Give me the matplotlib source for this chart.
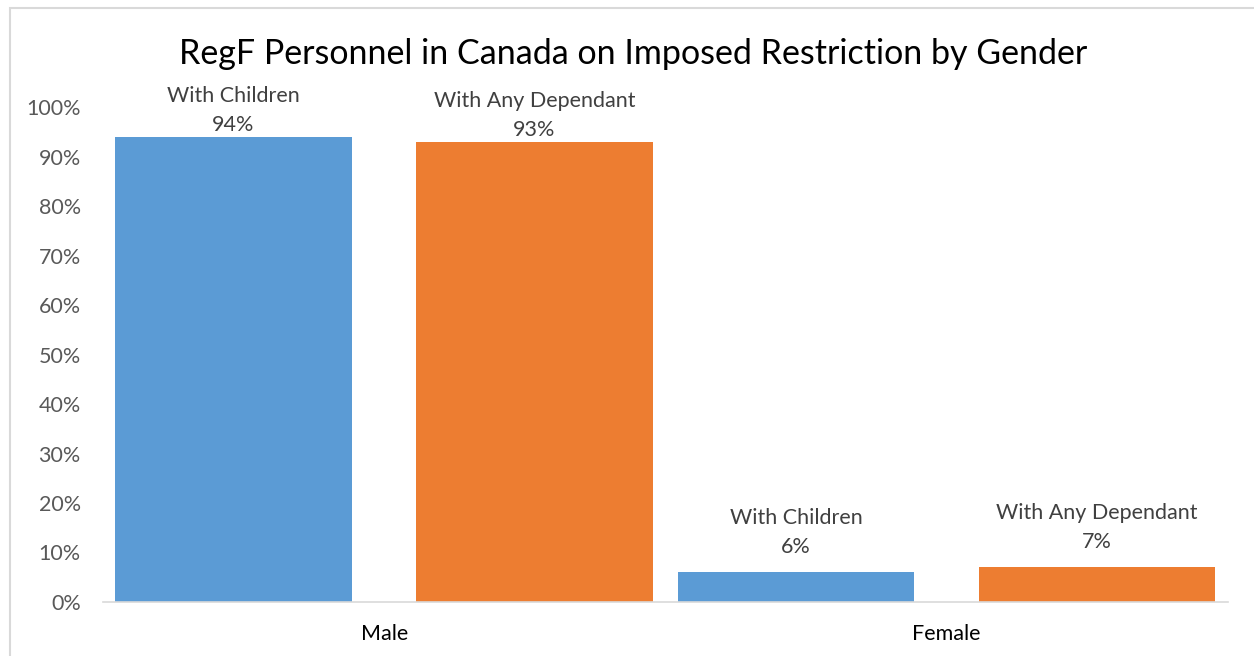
import matplotlib
matplotlib.use("Agg")
import matplotlib.pyplot as plt
from matplotlib.patches import Rectangle
import numpy as np

categories = ["Male", "Female"]
series_names = ["With Children", "With Any Dependant"]
with_children = [0.94, 0.06]
with_any_dependant = [0.93, 0.07]
colors = ["#5B9BD5", "#ED7D31"]
yticks = [0, 0.1, 0.2, 0.3, 0.4, 0.5, 0.6, 0.7, 0.8, 0.9, 1.0]
ytick_labels = ["0%", "10%", "20%", "30%", "40%", "50%", "60%", "70%", "80%", "90%", "100%"]
title = "RegF Personnel in Canada on Imposed Restriction by Gender"

plt.rcParams['font.family'] = ['Lato', 'DejaVu Sans']

W, H = 1254, 656
fig = plt.figure(figsize=(W / 100, H / 100), dpi=100)
ax = fig.add_axes([103 / W, (H - 602) / H, 1125 / W, 495 / H])

ax.set_xlim(-0.5, 1.5)
ax.set_ylim(0, 1.0)

x = np.arange(len(categories))
width = 0.421
offsets = [-0.268, 0.267]
label_fs = 15.5
for vals, name, col, off in zip([with_children, with_any_dependant], series_names, colors, offsets):
    bars = ax.bar(x + off, vals, width=width, color=col, zorder=2)
    for b, v in zip(bars, vals):
        cx = b.get_x() + b.get_width() / 2
        # labels of tall bars sit closer to the bar so they stay inside the chart
        shift = 12 if v > 0.5 else 25
        ax.annotate(f"{round(v * 100)}%", (cx, v), xytext=(0, shift), textcoords="offset pixels",
                    ha="center", va="center", fontsize=label_fs, color="#404040", annotation_clip=False)
        ax.annotate(name, (cx, v), xytext=(0, shift + 29), textcoords="offset pixels",
                    ha="center", va="center", fontsize=label_fs, color="#404040", annotation_clip=False)

ax.set_yticks(yticks)
ax.set_yticklabels(ytick_labels)
ax.set_xticks(x)
ax.set_xticklabels(categories, color="#000000")
ax.tick_params(axis="y", length=0, pad=16, labelsize=15.5, labelcolor="#595959")
ax.tick_params(axis="x", length=0, pad=16, labelsize=15.5)
for s in ["top", "right", "left"]:
    ax.spines[s].set_visible(False)
ax.spines["bottom"].set_color("#D9D9D9")
ax.spines["bottom"].set_linewidth(1.2)

fig.text(633 / W, 1 - 54 / H, title, ha="center", va="center", fontsize=24.5, color="#000000")

# chart border
fig.patches.append(Rectangle((10 / W, -0.01), 1.02, 1 - 8 / H + 0.01, transform=fig.transFigure,
                             fill=False, edgecolor="#D9D9D9", linewidth=1.5))

fig.savefig("out.png", dpi=100)
